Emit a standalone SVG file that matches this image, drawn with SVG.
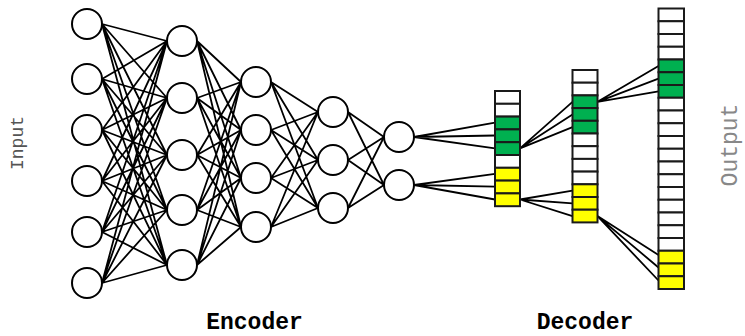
<svg xmlns="http://www.w3.org/2000/svg" width="745" height="336" viewBox="0 0 745 336">
<style>
.n{fill:#fff;stroke:#000;stroke-width:2}
.c{stroke:#000;stroke-width:1.8;fill:none}
.cell{stroke:#1a1a1a;stroke-width:2}
.w{fill:#fff}.g{fill:#00b050}.y{fill:#ffff00}
.lbl{font-family:"Liberation Mono","DejaVu Sans Mono",monospace;font-weight:bold;font-size:23px;fill:#000;text-anchor:middle}
.side{font-family:"Liberation Mono","DejaVu Sans Mono",monospace;text-anchor:middle}
</style>
<rect width="745" height="336" fill="#fff"/>
<g id="connectors" class="c">
<path d="M102 24L167 41M102 24L167 98M102 24L167 155M102 24L167 210M102 24L167 265
M102 79L167 41M102 79L167 98M102 79L167 155M102 79L167 210M102 79L167 265
M102 130L167 41M102 130L167 98M102 130L167 155M102 130L167 210M102 130L167 265
M102 181L167 41M102 181L167 98M102 181L167 155M102 181L167 210M102 181L167 265
M102 232L167 41M102 232L167 98M102 232L167 155M102 232L167 210M102 232L167 265
M102 283L167 41M102 283L167 98M102 283L167 155M102 283L167 210M102 283L167 265"/>
<path d="M197 41L241 82M197 41L241 130M197 41L241 178M197 41L241 227
M197 98L241 82M197 98L241 130M197 98L241 178M197 98L241 227
M197 155L241 82M197 155L241 130M197 155L241 178M197 155L241 227
M197 210L241 82M197 210L241 130M197 210L241 178M197 210L241 227
M197 265L241 82M197 265L241 130M197 265L241 178M197 265L241 227"/>
<path d="M271 82L318 112M271 82L318 160M271 82L318 208
M271 130L318 112M271 130L318 160M271 130L318 208
M271 178L318 112M271 178L318 160M271 178L318 208
M271 227L318 112M271 227L318 160M271 227L318 208"/>
<path d="M348 112L384 137M348 112L384 185M348 160L384 137M348 160L384 185M348 208L384 137M348 208L384 185"/>
<path d="M414 137L495 122.7M414 137L495 135.5M414 137L495 148.3
M414 185L495 173.9M414 185L495 186.7M414 185L495 199.5"/>
<path d="M520 148.3L572.5 101.8M520 148.3L572.5 114.5M520 148.3L572.5 127.2
M520 199.5L572.5 190.7M520 199.5L572.5 203.4M520 199.5L572.5 216.1"/>
<path d="M597.5 101.8L658.5 66M597.5 101.8L658.5 78.6M597.5 101.8L658.5 91.4
M597.5 216.1L658.5 255M597.5 216.1L658.5 267.5M597.5 216.1L658.5 280.5"/>
</g>
<g id="layer1">
<circle class="n" cx="87" cy="24" r="15"/><circle class="n" cx="87" cy="79" r="15"/><circle class="n" cx="87" cy="130" r="15"/><circle class="n" cx="87" cy="181" r="15"/><circle class="n" cx="87" cy="232" r="15"/><circle class="n" cx="87" cy="283" r="15"/>
</g>
<g id="layer2">
<circle class="n" cx="182" cy="41" r="15"/><circle class="n" cx="182" cy="98" r="15"/><circle class="n" cx="182" cy="155" r="15"/><circle class="n" cx="182" cy="210" r="15"/><circle class="n" cx="182" cy="265" r="15"/>
</g>
<g id="layer3">
<circle class="n" cx="256" cy="82" r="15"/><circle class="n" cx="256" cy="130" r="15"/><circle class="n" cx="256" cy="178" r="15"/><circle class="n" cx="256" cy="227" r="15"/>
</g>
<g id="layer4">
<circle class="n" cx="333" cy="112" r="15"/><circle class="n" cx="333" cy="160" r="15"/><circle class="n" cx="333" cy="208" r="15"/>
</g>
<g id="layer5">
<circle class="n" cx="399" cy="137" r="15"/><circle class="n" cx="399" cy="185" r="15"/>
</g>
<g id="decoder1">
<rect class="cell w" x="495" y="91" width="25" height="12.8"/>
<rect class="cell w" x="495" y="103.8" width="25" height="12.8"/>
<rect class="cell g" x="495" y="116.6" width="25" height="12.8"/>
<rect class="cell g" x="495" y="129.4" width="25" height="12.8"/>
<rect class="cell g" x="495" y="142.2" width="25" height="12.8"/>
<rect class="cell w" x="495" y="155" width="25" height="12.8"/>
<rect class="cell y" x="495" y="167.8" width="25" height="12.8"/>
<rect class="cell y" x="495" y="180.6" width="25" height="12.8"/>
<rect class="cell y" x="495" y="193.4" width="25" height="12.8"/>
</g>
<g id="decoder2">
<rect class="cell w" x="572.5" y="70" width="25" height="12.7"/>
<rect class="cell w" x="572.5" y="82.7" width="25" height="12.7"/>
<rect class="cell g" x="572.5" y="95.4" width="25" height="12.7"/>
<rect class="cell g" x="572.5" y="108.1" width="25" height="12.7"/>
<rect class="cell g" x="572.5" y="120.8" width="25" height="12.7"/>
<rect class="cell w" x="572.5" y="133.5" width="25" height="12.7"/>
<rect class="cell w" x="572.5" y="146.2" width="25" height="12.7"/>
<rect class="cell w" x="572.5" y="158.9" width="25" height="12.7"/>
<rect class="cell w" x="572.5" y="171.6" width="25" height="12.7"/>
<rect class="cell y" x="572.5" y="184.3" width="25" height="12.7"/>
<rect class="cell y" x="572.5" y="197" width="25" height="12.7"/>
<rect class="cell y" x="572.5" y="209.7" width="25" height="12.7"/>
</g>
<g id="decoder3">
<rect class="cell w" x="658.5" y="8.5" width="25.5" height="12.75"/>
<rect class="cell w" x="658.5" y="21.25" width="25.5" height="12.75"/>
<rect class="cell w" x="658.5" y="34" width="25.5" height="12.75"/>
<rect class="cell w" x="658.5" y="46.75" width="25.5" height="12.75"/>
<rect class="cell g" x="658.5" y="59.5" width="25.5" height="12.75"/>
<rect class="cell g" x="658.5" y="72.25" width="25.5" height="12.75"/>
<rect class="cell g" x="658.5" y="85" width="25.5" height="12.75"/>
<rect class="cell w" x="658.5" y="97.75" width="25.5" height="12.75"/>
<rect class="cell w" x="658.5" y="110.5" width="25.5" height="12.75"/>
<rect class="cell w" x="658.5" y="123.25" width="25.5" height="12.75"/>
<rect class="cell w" x="658.5" y="136" width="25.5" height="12.75"/>
<rect class="cell w" x="658.5" y="148.75" width="25.5" height="12.75"/>
<rect class="cell w" x="658.5" y="161.5" width="25.5" height="12.75"/>
<rect class="cell w" x="658.5" y="174.25" width="25.5" height="12.75"/>
<rect class="cell w" x="658.5" y="187" width="25.5" height="12.75"/>
<rect class="cell w" x="658.5" y="199.75" width="25.5" height="12.75"/>
<rect class="cell w" x="658.5" y="212.5" width="25.5" height="12.75"/>
<rect class="cell w" x="658.5" y="225.25" width="25.5" height="12.75"/>
<rect class="cell w" x="658.5" y="238" width="25.5" height="12.75"/>
<rect class="cell y" x="658.5" y="250.75" width="25.5" height="12.75"/>
<rect class="cell y" x="658.5" y="263.5" width="25.5" height="12.75"/>
<rect class="cell y" x="658.5" y="276.25" width="25.5" height="12.75"/>
</g>
<g id="labels">
<text class="side" font-size="18" fill="#555" transform="translate(23,143) rotate(-90)">Input</text>
<text class="side" font-size="23" fill="#888" transform="translate(737,145) rotate(-90)">Output</text>
<text class="lbl" x="254.5" y="329">Encoder</text>
<text class="lbl" x="585" y="329">Decoder</text>
</g>
</svg>
